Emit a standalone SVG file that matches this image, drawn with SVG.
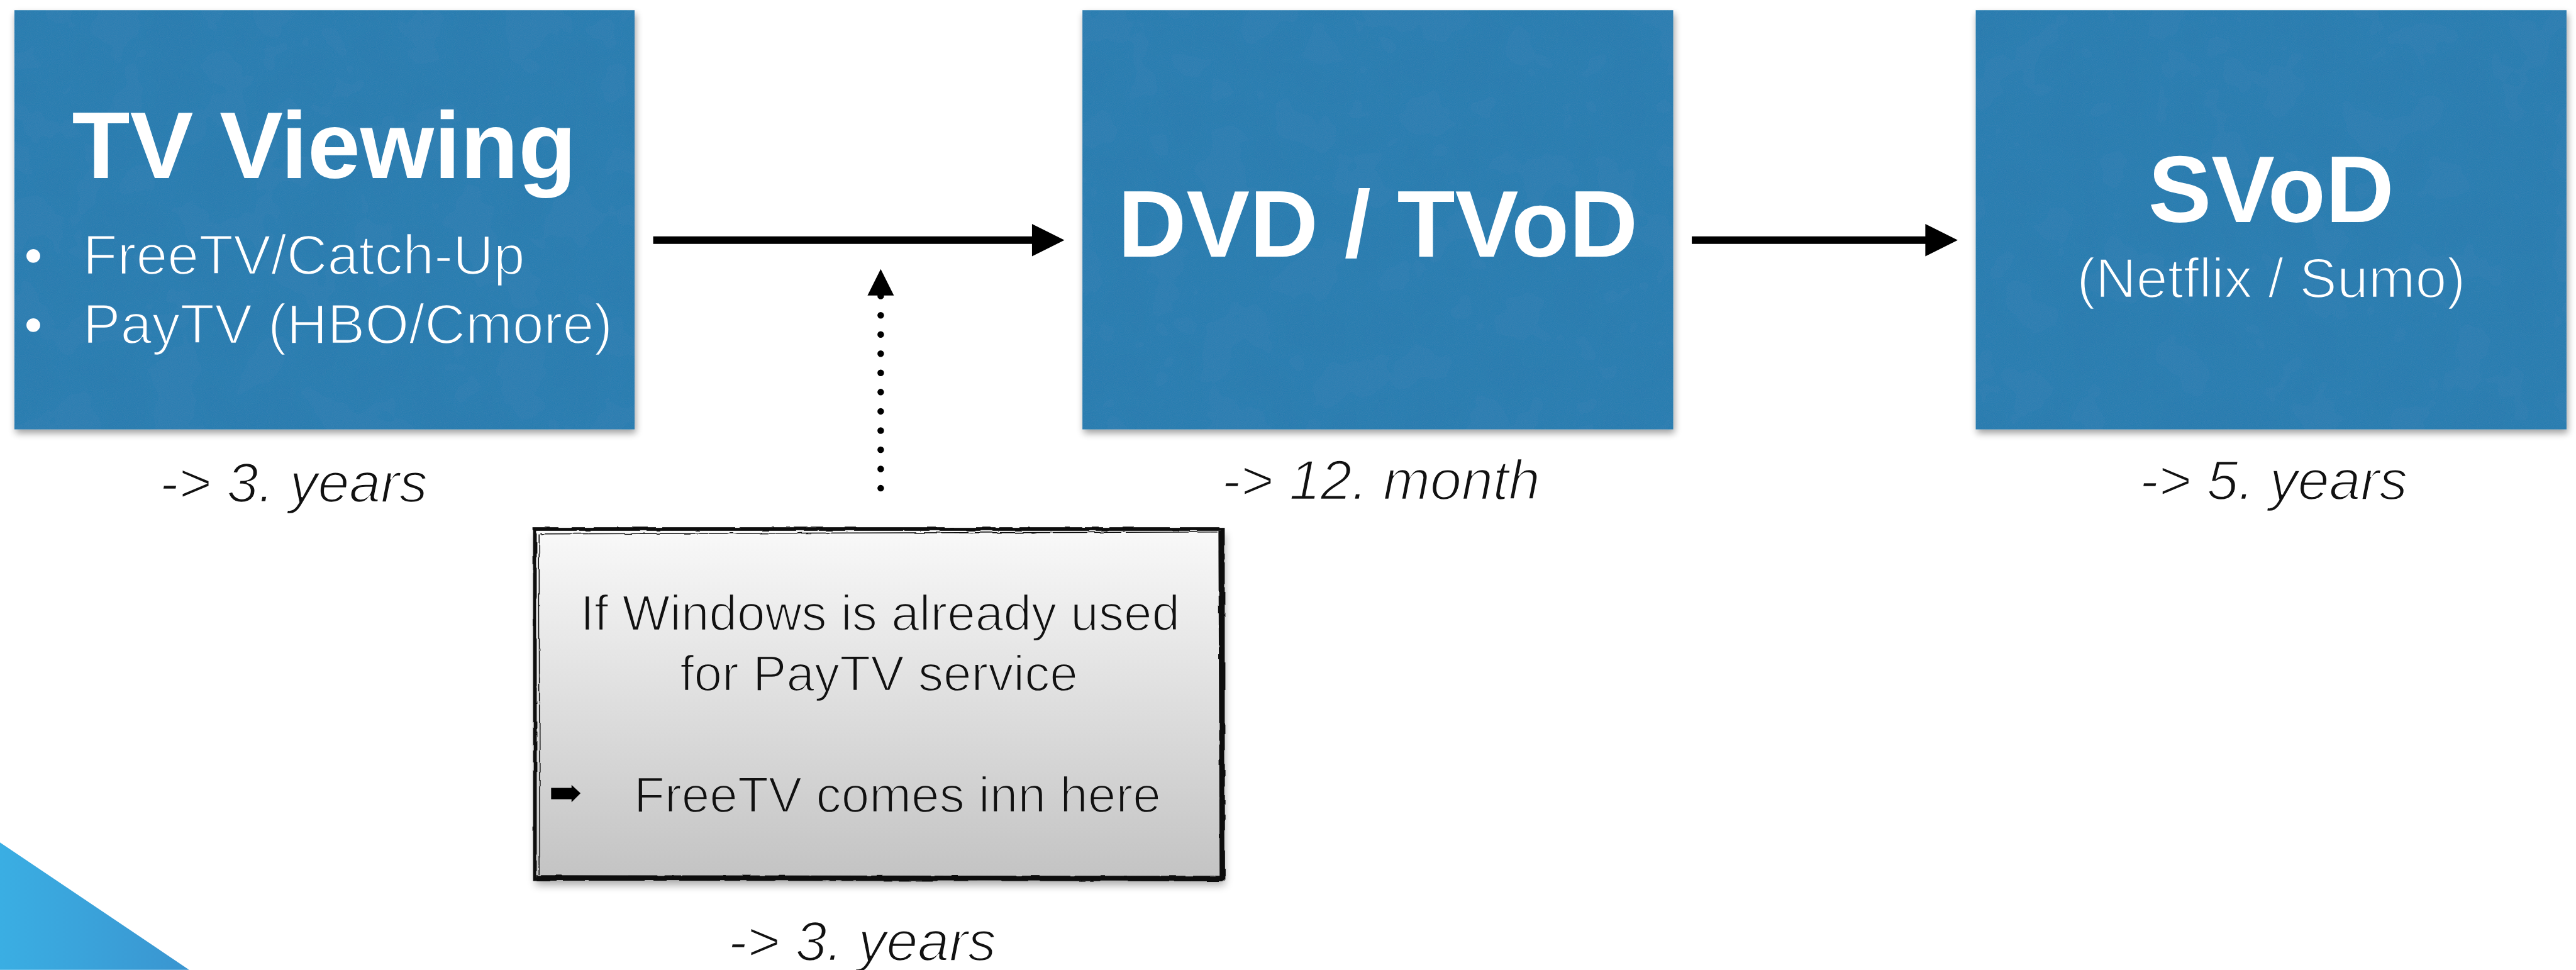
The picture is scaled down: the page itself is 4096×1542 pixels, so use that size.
<svg xmlns="http://www.w3.org/2000/svg" width="4096" height="1542" viewBox="0 0 4096 1542">
  <defs>
    <style>
      .sans { font-family: "Liberation Sans", Arial, Helvetica, sans-serif; }
      .title { font-size: 158px; font-weight: bold; fill: #ffffff; text-anchor: middle; }
      .light-w { font-size: 94px; fill: #ffffff; stroke: #2f7eb1; stroke-width: 2.6px; }
      .note-txt { font-size: 84px; fill: #111111; stroke: url(#noteFill); stroke-width: 2.4px; }
      .period { font-size: 94px; font-style: italic; fill: #111111; stroke: #ffffff; stroke-width: 2.6px; text-anchor: middle; }
      .stage { fill: #2f7eb1; }
      .flow { stroke: #000000; stroke-width: 12.6; fill: none; }
      .head { fill: #000000; }
    </style>

    <!-- paper grain + soft shadow for the blue stage cards -->
    <filter id="card" x="-5%" y="-5%" width="112%" height="115%">
      <feTurbulence type="fractalNoise" baseFrequency="0.012" numOctaves="3" seed="4" result="mottle"/>
      <feColorMatrix in="mottle" type="matrix" values="0 0 0 0 0  0 0 0 0 0.05  0 0 0 0 0.1  0.08 0 0 0 -0.03" result="mottleA"/>
      <feComposite in="mottleA" in2="SourceAlpha" operator="in" result="mottleIn"/>
      <feTurbulence type="fractalNoise" baseFrequency="0.9" numOctaves="1" seed="9" result="grain"/>
      <feColorMatrix in="grain" type="matrix" values="0 0 0 0 0.3  0 0 0 0 0.55  0 0 0 0 0.75  0.1 0 0 0 -0.03" result="grainA"/>
      <feComposite in="grainA" in2="SourceAlpha" operator="in" result="grainIn"/>
      <feGaussianBlur in="SourceAlpha" stdDeviation="6" result="sb"/>
      <feOffset in="sb" dx="2" dy="6" result="so"/>
      <feComponentTransfer in="so" result="shadow"><feFuncA type="linear" slope="0.38"/></feComponentTransfer>
      <feMerge>
        <feMergeNode in="shadow"/>
        <feMergeNode in="SourceGraphic"/>
        <feMergeNode in="mottleIn"/>
        <feMergeNode in="grainIn"/>
      </feMerge>
    </filter>

    <!-- soft shadow under the note card -->
    <filter id="noteShadow" x="-5%" y="-5%" width="112%" height="118%">
      <feGaussianBlur in="SourceAlpha" stdDeviation="7" result="b"/>
      <feOffset in="b" dx="2" dy="9" result="o"/>
      <feComponentTransfer in="o" result="s"><feFuncA type="linear" slope="0.35"/></feComponentTransfer>
      <feMerge><feMergeNode in="s"/><feMergeNode in="SourceGraphic"/></feMerge>
    </filter>

    <!-- hand-drawn, uneven ink for the note frame -->
    <filter id="rough" x="-2%" y="-2%" width="104%" height="104%">
      <feTurbulence type="fractalNoise" baseFrequency="0.035 0.035" numOctaves="2" seed="3" result="t"/>
      <feDisplacementMap in="SourceGraphic" in2="t" scale="4" xChannelSelector="R" yChannelSelector="G"/>
    </filter>

    <linearGradient id="noteFill" gradientUnits="userSpaceOnUse" x1="0" y1="880" x2="0" y2="1465">
      <stop offset="0" stop-color="#f9f9f9"/>
      <stop offset="1" stop-color="#c3c3c3"/>
    </linearGradient>

    <linearGradient id="cornerFill" x1="0" y1="0" x2="1" y2="0">
      <stop offset="0" stop-color="#3aaee3"/>
      <stop offset="1" stop-color="#3a95d0"/>
    </linearGradient>
  </defs>

  <rect x="0" y="0" width="4096" height="1542" fill="#ffffff"/>

  <g transform="scale(0.9546)" class="sans">

    <!-- corner accent -->
    <polygon id="corner-accent" points="0,1403 315,1615 0,1615" fill="url(#cornerFill)"/>

    <!-- stage 1 -->
    <g id="node-tv-viewing">
      <rect class="stage" x="24" y="17" width="1033" height="698" filter="url(#card)"/>
      <text class="title" x="540" y="296">TV Viewing</text>
      <text class="light-w" x="39" y="457">•</text>
      <text class="light-w" x="138" y="457">FreeTV/Catch-Up</text>
      <text class="light-w" x="39" y="572">•</text>
      <text class="light-w" x="138" y="572">PayTV (HBO/Cmore)</text>
      <text class="period" x="489" y="836">-&gt; 3. years</text>
    </g>

    <!-- stage 2 -->
    <g id="node-dvd-tvod">
      <rect class="stage" x="1803" y="17" width="984" height="698" filter="url(#card)"/>
      <text class="title" x="2295" y="427">DVD / TVoD</text>
      <text class="period" x="2300" y="832">-&gt; 12. month</text>
    </g>

    <!-- stage 3 -->
    <g id="node-svod">
      <rect class="stage" x="3291" y="17" width="984" height="698" filter="url(#card)"/>
      <text class="title" x="3783" y="370">SVoD</text>
      <text class="light-w" x="3783" y="496" text-anchor="middle">(Netflix / Sumo)</text>
      <text class="period" x="3787" y="832">-&gt; 5. years</text>
    </g>

    <!-- note card -->
    <g id="node-note">
      <rect x="890" y="880" width="1148" height="584" fill="url(#noteFill)" filter="url(#noteShadow)"/>
      <g filter="url(#rough)" fill="none" stroke="#0d0d0d">
        <rect x="891" y="881" width="1146" height="582" stroke-width="6"/>
        <path d="M2034,884 L2036,1460 M894,1462 L2036,1463" stroke-width="9"/>
        <path d="M900,889 L2028,886 M898,890 L899,1456" stroke-width="1.6"/>
      </g>
      <text class="note-txt" x="1466" y="1050" text-anchor="middle">If Windows is already used</text>
      <text class="note-txt" x="1464" y="1150" text-anchor="middle">for PayTV service</text>
      <!-- arrow bullet -->
      <polygon points="918,1312 952,1312 952,1307 967,1321 952,1336 952,1331 918,1331" fill="#000000"/>
      <text class="note-txt" x="1056" y="1352">FreeTV comes inn here</text>
      <text class="period" x="1436" y="1600">-&gt; 3. years</text>
    </g>

    <!-- connectors -->
    <g id="connectors">
      <line class="flow" x1="1088" y1="400" x2="1722" y2="400"/>
      <polygon class="head" points="1719,373 1773,400 1719,427"/>
      <line class="flow" x1="2818" y1="400" x2="3210" y2="400"/>
      <polygon class="head" points="3207,373 3261,400 3207,427"/>
      <line x1="1467" y1="813" x2="1467" y2="492" stroke="#000000" stroke-width="11" stroke-linecap="round" stroke-dasharray="0 32"/>
      <polygon class="head" points="1445,492 1467,448 1489,492"/>
    </g>
  </g>
</svg>
